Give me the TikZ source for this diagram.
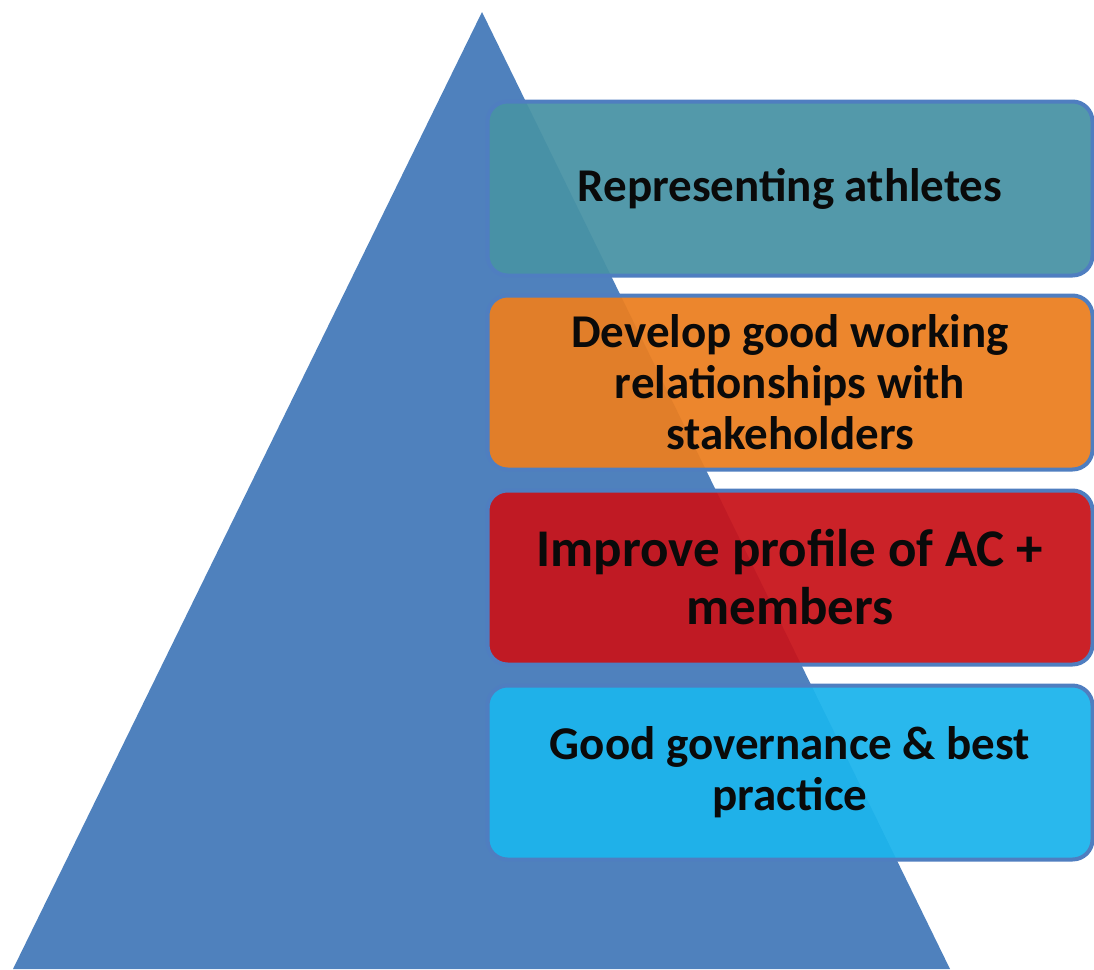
\documentclass[tikz,border=0pt]{standalone}
\usepackage{fontspec}
\setmainfont{Carlito}
\definecolor{triblue}{HTML}{4F81BD}
\definecolor{bordblue}{HTML}{4F7EC0}
\definecolor{tealbox}{HTML}{4893A5}
\definecolor{orangebox}{HTML}{EB7E20}
\definecolor{redbox}{HTML}{C8141B}
\definecolor{skybox}{HTML}{1CB4EC}
\definecolor{txt}{HTML}{0A0A0A}
\begin{document}
\begin{tikzpicture}[x=1pt,y=-1pt,
  levelbox/.style={draw=bordblue, line width=4pt, rounded corners=20pt,
    minimum width=605pt, minimum height=174pt, inner sep=0pt,
    fill opacity=0.94, text opacity=1, text=txt, align=center,
    font=\bfseries\fontsize{47}{51}\selectfont}]
\useasboundingbox (0,0) rectangle (1094,969);
\fill[triblue] (482,12) -- (950,969) -- (13,969) -- cycle;
\node[levelbox, fill=tealbox] (b1) at (790,188.5) {Representing athletes};
\node[levelbox, fill=orangebox] (b2) at (790,382.5) {Develop good working\\relationships with\\stakeholders};
\node[levelbox, fill=redbox, font=\bfseries\fontsize{53}{58}\selectfont] (b3) at (790,577.5) {Improve profile of AC +\\members};
\node[levelbox, fill=skybox] (b4) at (790,772.5) {Good governance \& best\\practice};
\end{tikzpicture}
\end{document}
